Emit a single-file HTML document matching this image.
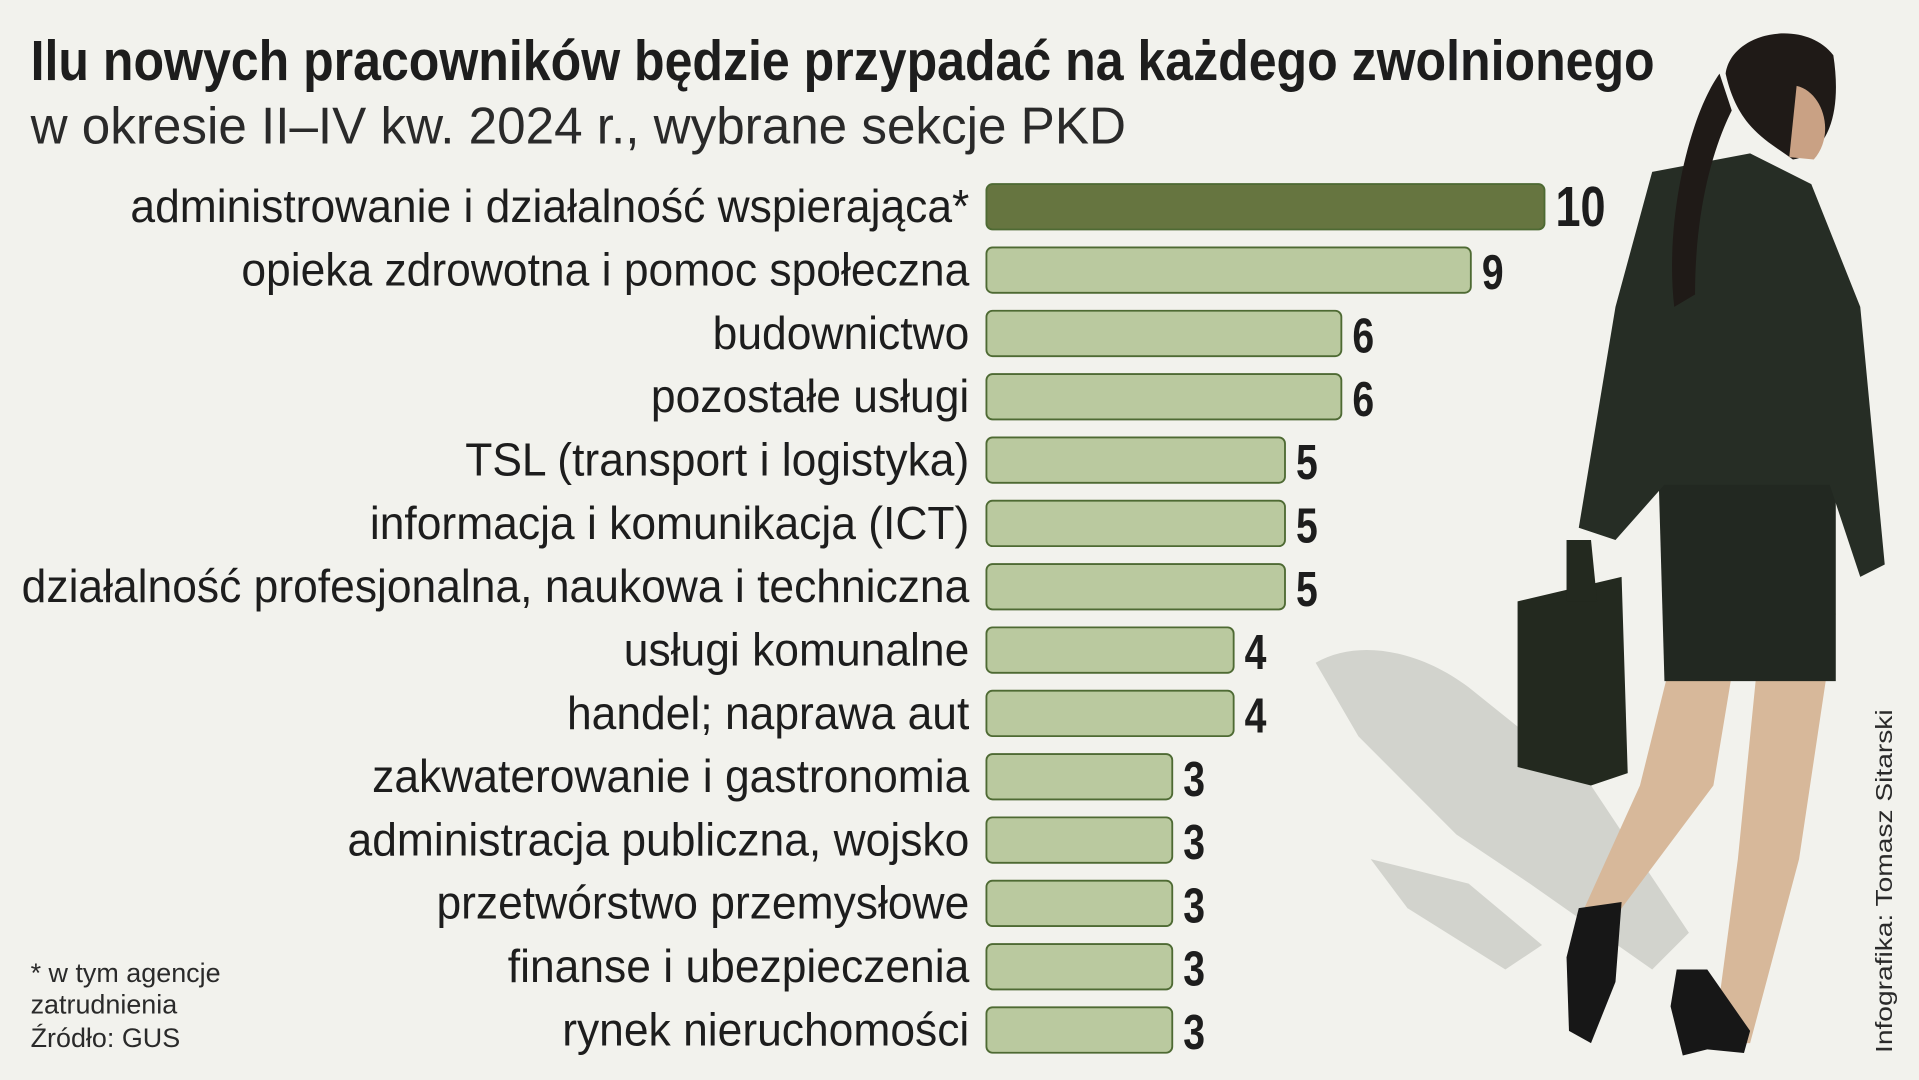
<!DOCTYPE html>
<html><head><meta charset="utf-8"><style>
html,body{margin:0;padding:0;background:#f2f2ed;}
svg{display:block}
text{font-family:"Liberation Sans Narrow","Liberation Sans",sans-serif;}
</style></head><body>
<svg id="chart" width="1919" height="1080" viewBox="0 0 1568 880" preserveAspectRatio="none" xmlns="http://www.w3.org/2000/svg">
<rect x="0" y="0" width="1568" height="880" fill="#f2f2ed"/>
<text x="25" y="65" font-size="46" font-weight="bold" fill="#1d1d1d" textLength="1327" lengthAdjust="spacingAndGlyphs">Ilu nowych pracowników będzie przypadać na każdego zwolnionego</text>
<text x="25" y="117" font-size="42" fill="#2a2a2a" textLength="895" lengthAdjust="spacingAndGlyphs">w okresie II–IV kw. 2024 r., wybrane sekcje PKD</text>
<g id="figure">
  <path d="M1075,540 C1110,520 1160,530 1200,560 L1300,640 L1380,760 L1350,790 L1250,720 L1190,680 L1150,640 L1110,600 Z" fill="#d2d3cd"/>
  <path d="M1120,700 L1200,720 L1260,770 L1230,790 L1150,740 Z" fill="#d2d3cd"/>
  <path d="M1440,500 L1500,500 L1470,700 L1430,850 L1400,850 L1420,700 Z" fill="#d7b89a"/>
  <path d="M1370,520 L1420,520 L1400,640 L1310,760 L1290,750 L1340,640 Z" fill="#d7b89a"/>
  <path d="M1355,380 L1500,380 L1500,555 L1360,555 Z" fill="#222821"/>
  <path d="M1350,140 L1430,125 L1480,150 L1520,250 L1540,460 L1520,470 L1495,395 L1360,395 L1320,440 L1290,430 L1320,250 Z" fill="#262d25"/>
  <path d="M1410,60 C1415,25 1475,15 1498,45 C1505,90 1495,125 1465,130 C1445,115 1420,105 1410,60 Z" fill="#1f1a17"/>
  <path d="M1468,70 C1490,75 1500,110 1482,130 L1462,128 Z" fill="#c9a184"/>
  <path d="M1405,60 C1380,95 1360,180 1368,250 L1385,240 C1385,170 1400,120 1415,90 Z" fill="#1f1a17"/>
  <path d="M1240,490 L1325,470 L1330,630 L1300,640 L1240,625 Z" fill="#23291f"/>
  <path d="M1280,440 L1300,440 L1305,490 L1280,490 Z" fill="#23291f"/>
  <path d="M1290,740 L1325,735 L1320,800 L1300,850 L1282,840 L1280,780 Z" fill="#171717"/>
  <path d="M1370,790 L1395,790 L1430,840 L1425,858 L1395,855 L1375,860 L1365,820 Z" fill="#171717"/>
</g>
<g id="bars"></g>
<text x="25" y="800" font-size="22" fill="#2a2a2a">* w tym agencje</text>
<text x="25" y="826" font-size="22" fill="#2a2a2a">zatrudnienia</text>
<text x="25" y="853" font-size="22" fill="#2a2a2a">Źródło: GUS</text>
<text transform="translate(1546,858) rotate(-90)" font-size="19" fill="#2a2a2a" style="font-family:'Liberation Sans',sans-serif" textLength="280" lengthAdjust="spacingAndGlyphs">Infografika: Tomasz Sitarski</text>
</svg>
<script>
const categories = ["administrowanie i działalność wspierająca*","opieka zdrowotna i pomoc społeczna","budownictwo","pozostałe usługi","TSL (transport i logistyka)","informacja i komunikacja (ICT)","działalność profesjonalna, naukowa i techniczna","usługi komunalne","handel; naprawa aut","zakwaterowanie i gastronomia","administracja publiczna, wojsko","przetwórstwo przemysłowe","finanse i ubezpieczenia","rynek nieruchomości"];
const values = [10,8.68,6.36,6.36,5.35,5.35,5.35,4.43,4.43,3.33,3.33,3.33,3.33,3.33];
const valueLabels = ["10","9","6","6","5","5","5","4","4","3","3","3","3","3"];

const NS = "http://www.w3.org/2000/svg";
const x0 = 806, unit = 45.6, y0 = 150, pitch = 51.6, bh = 37;
function xScale(v){ return x0 + v*unit; }
function yScale(i){ return y0 + i*pitch; }
const g = document.getElementById("bars");
categories.forEach((c,i)=>{
  const y = yScale(i);
  const r = document.createElementNS(NS,"rect");
  r.setAttribute("x", x0); r.setAttribute("y", y);
  r.setAttribute("width", xScale(values[i]) - x0); r.setAttribute("height", bh);
  r.setAttribute("rx", 5);
  r.setAttribute("fill", i===0 ? "#667540" : "#bac99f");
  r.setAttribute("stroke", "#4e6a33"); r.setAttribute("stroke-width", 1.5);
  
  
  g.appendChild(r);
  const t = document.createElementNS(NS,"text");
  t.setAttribute("transform", "translate(792," + (y+31) + ") scale(0.955,1)");
  t.setAttribute("text-anchor","end"); t.setAttribute("font-size", 38);
  t.setAttribute("fill","#1d1d1d");
  t.textContent = c;
  
  
  g.appendChild(t);
  const v = document.createElementNS(NS,"text");
  v.setAttribute("transform", "translate(" + (xScale(values[i]) + 9) + "," + (y+34) + ") scale(0.8,1)");
  v.setAttribute("font-size", i===0 ? 46 : 40); v.setAttribute("font-weight","bold");
  v.setAttribute("fill","#1d1d1d");
  v.textContent = valueLabels[i];
  
  
  g.appendChild(v);
});
</script>
</body></html>
